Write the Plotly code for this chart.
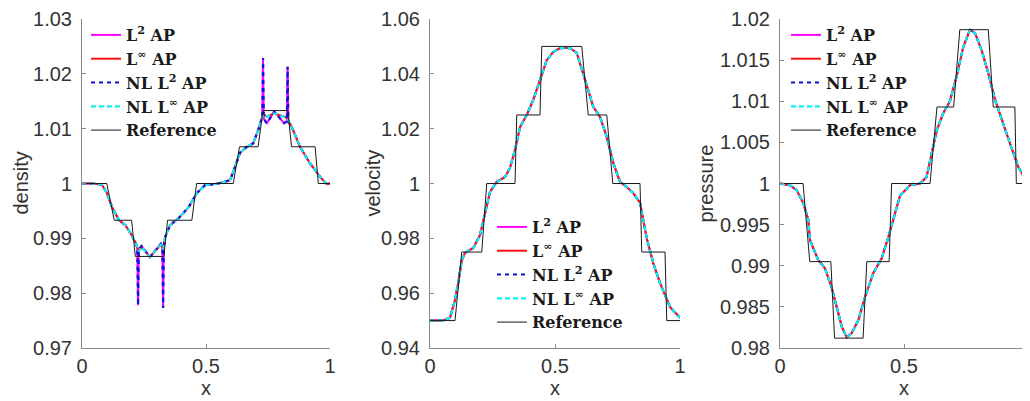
import plotly.graph_objects as go

# ---------------- DATA ----------------
dens_x = [0, 0.04, 0.08, 0.10, 0.121, 0.149, 0.175, 0.20, 0.218, 0.223, 0.226, 0.229,
          0.24, 0.274, 0.318, 0.324, 0.327, 0.330, 0.335, 0.355, 0.39, 0.43, 0.464,
          0.496, 0.55, 0.597, 0.617, 0.637, 0.665, 0.69, 0.71, 0.724, 0.727, 0.730,
          0.733, 0.745, 0.775, 0.815, 0.826, 0.829, 0.832, 0.846, 0.879, 0.919, 0.96,
          0.987, 1.0]
dens_linf = [1.0, 1.0, 0.9998, 0.9983, 0.9957, 0.9933, 0.9924, 0.9906, 0.9890, 0.9882,
             0.9878, 0.9876, 0.9884, 0.9866, 0.9888, 0.9884, 0.9880, 0.9885, 0.9902,
             0.9924, 0.9937, 0.9957, 0.9983, 0.9997, 1.0, 1.0006, 1.0030, 1.0056,
             1.0067, 1.0073, 1.0097, 1.0118, 1.0122, 1.0125, 1.0126, 1.0122, 1.0128,
             1.0122, 1.0120, 1.0118, 1.0115, 1.0103, 1.0067, 1.0037, 1.0012, 0.9999, 1.0]
dens_l2 = [1.0, 1.0, 0.9998, 0.9983, 0.9957, 0.9933, 0.9924, 0.9906, 0.9890, 0.9882,
           0.9778, 0.9880, 0.9886, 0.9866, 0.9890, 0.9884, 0.9773, 0.9885, 0.9902,
           0.9924, 0.9937, 0.9957, 0.9983, 0.9997, 1.0, 1.0006, 1.0030, 1.0056,
           1.0067, 1.0073, 1.0097, 1.0118, 1.0122, 1.0229, 1.0118, 1.0110, 1.0131,
           1.0110, 1.0113, 1.0213, 1.0112, 1.0103, 1.0067, 1.0037, 1.0012, 0.9999, 1.0]
dens_ref_x = [0, 0.10, 0.13, 0.20, 0.215, 0.33, 0.345, 0.443, 0.462, 0.61, 0.635,
              0.71, 0.73, 0.83, 0.845, 0.94, 0.953, 1.0]
dens_ref = [1.0, 1.0, 0.9933, 0.9933, 0.9867, 0.9867, 0.9933, 0.9933, 1.0, 1.0,
            1.0067, 1.0067, 1.0133, 1.0133, 1.0067, 1.0067, 1.0, 1.0]

vel_x = [0, 0.05, 0.08, 0.10, 0.113, 0.127, 0.14, 0.173, 0.20, 0.22, 0.24, 0.267,
         0.30, 0.32, 0.34, 0.36, 0.387, 0.413, 0.44, 0.467, 0.493, 0.52, 0.56, 0.587,
         0.613, 0.633, 0.653, 0.68, 0.707, 0.733, 0.76, 0.787, 0.813, 0.84, 0.867,
         0.893, 0.92, 0.96, 1.0]
vel_num = [0.950, 0.950, 0.951, 0.9575, 0.9637, 0.972, 0.9747, 0.9765, 0.9812, 0.9885,
           0.9969, 1.0006, 1.0024, 1.0057, 1.0122, 1.0206, 1.025, 1.0305, 1.0378,
           1.045, 1.048, 1.0494, 1.0494, 1.0476, 1.040, 1.034, 1.028, 1.0243, 1.017,
           1.0075, 1.0006, 0.9987, 0.9965, 0.993, 0.980, 0.971, 0.9637, 0.955, 0.951]
vel_ref_x = [0, 0.10, 0.127, 0.207, 0.227, 0.34, 0.347, 0.44, 0.447, 0.607, 0.633,
             0.707, 0.731, 0.84, 0.847, 0.94, 0.947, 1.0]
vel_ref = [0.95, 0.95, 0.975, 0.975, 1.0, 1.0, 1.025, 1.025, 1.05, 1.05, 1.025, 1.025,
           1.0, 1.0, 0.975, 0.975, 0.95, 0.95]

pres_x = [0, 0.04, 0.067, 0.094, 0.114, 0.121, 0.154, 0.181, 0.208, 0.228, 0.249,
          0.269, 0.289, 0.316, 0.343, 0.376, 0.41, 0.437, 0.464, 0.484, 0.524, 0.565,
          0.591, 0.612, 0.632, 0.659, 0.685, 0.712, 0.739, 0.766, 0.786, 0.813, 0.84,
          0.867, 0.894, 0.927, 0.961, 0.995, 1.0]
pres_num = [1.0, 0.9998, 0.9992, 0.9976, 0.9956, 0.9931, 0.9907, 0.9897, 0.9874, 0.985,
            0.9826, 0.9813, 0.9818, 0.9834, 0.9862, 0.9891, 0.9909, 0.9935, 0.9964,
            0.9985, 0.9998, 1.0, 1.0008, 1.0037, 1.0065, 1.0086, 1.0100, 1.0130,
            1.0166, 1.0187, 1.0183, 1.0162, 1.0134, 1.0102, 1.0077, 1.0049, 1.0020,
            1.0002, 1.0]
pres_ref_x = [0, 0.093, 0.12, 0.205, 0.22, 0.335, 0.35, 0.44, 0.45, 0.605, 0.633,
              0.70, 0.725, 0.84, 0.86, 0.947, 0.953, 1.0]
pres_ref = [1.0, 1.0, 0.9905, 0.9905, 0.9812, 0.9812, 0.9905, 0.9905, 1.0, 1.0,
            1.0093, 1.0093, 1.0187, 1.0187, 1.0093, 1.0093, 1.0, 1.0]

x_ticks = [0, 0.5, 1]
x_ticktext = ["0", "0.5", "1"]
dens_ticks = [0.97, 0.98, 0.99, 1.0, 1.01, 1.02, 1.03]
dens_ticktext = ["0.97", "0.98", "0.99", "1", "1.01", "1.02", "1.03"]
vel_ticks = [0.94, 0.96, 0.98, 1.0, 1.02, 1.04, 1.06]
vel_ticktext = ["0.94", "0.96", "0.98", "1", "1.02", "1.04", "1.06"]
pres_ticks = [0.98, 0.985, 0.99, 0.995, 1.0, 1.005, 1.01, 1.015, 1.02]
pres_ticktext = ["0.98", "0.985", "0.99", "0.995", "1", "1.005", "1.01", "1.015", "1.02"]

names = ["L<sup>2</sup> AP", "L<sup>∞</sup> AP", "NL L<sup>2</sup> AP",
         "NL L<sup>∞</sup> AP", "Reference"]

# ---------------- STYLE ----------------
styles = [
    dict(color="#ff00ff", width=2, dash="solid"),
    dict(color="#ff1010", width=2, dash="solid"),
    dict(color="#1010e0", width=2.2, dash="4px,4px"),
    dict(color="#10f0f0", width=2.2, dash="5px,3px"),
    dict(color="#1a1a1a", width=1, dash="solid"),
]

# positions below are page pixels (target picture coordinates)
panels = [
    dict(x=dens_x, sols=[dens_l2, dens_linf, dens_l2, dens_linf], rx=dens_ref_x, ry=dens_ref,
         rng=[0.97, 1.03], ticks=dens_ticks, ticktext=dens_ticktext, label="density",
         dom=[82, 330], lab_x=20, leg=(86, 18)),
    dict(x=vel_x, sols=[vel_num] * 4, rx=vel_ref_x, ry=vel_ref,
         rng=[0.94, 1.06], ticks=vel_ticks, ticktext=vel_ticktext, label="velocity",
         dom=[430, 680], lab_x=372, leg=(492, 210)),
    dict(x=pres_x, sols=[pres_num] * 4, rx=pres_ref_x, ry=pres_ref,
         rng=[0.98, 1.02], ticks=pres_ticks, ticktext=pres_ticktext, label="pressure",
         dom=[780, 1028], lab_x=705, leg=(786, 18)),
]

OFF = 8  # default body margin of the page
W, H = 1030 - OFF, 401 - OFF
y_top, y_bot = 19, 348


def px(x):
    return (x - OFF) / W


def py(y):
    return (H - (y - OFF)) / H


fig = go.Figure()
annotations = []
layout = {}
label_font = dict(family="Liberation Sans, Arial", size=20, color="#333333")

for i, p in enumerate(panels):
    k = "" if i == 0 else str(i + 1)
    leg = "legend" + k
    ys = p["sols"] + [p["ry"]]
    xs = [p["x"]] * 4 + [p["rx"]]
    for j in range(5):
        fig.add_trace(go.Scatter(
            x=xs[j], y=ys[j], mode="lines", name=names[j],
            line=styles[j], xaxis="x" + k, yaxis="y" + k, legend=leg,
        ))

    axis_common = dict(
        showline=True, linecolor="#8a8a8a", linewidth=1, mirror=False, automargin=False,
        ticks="inside", ticklen=4, tickcolor="#8a8a8a", showgrid=False, zeroline=False,
        tickfont=dict(family="Liberation Sans, Arial", size=20, color="#333333"),
        ticklabeloverflow="allow",
    )
    layout["xaxis" + k] = dict(
        axis_common, domain=[px(p["dom"][0]), px(p["dom"][1])], range=[0, 1],
        tickvals=x_ticks, ticktext=x_ticktext, anchor="y" + k,
    )
    layout["yaxis" + k] = dict(
        axis_common, domain=[py(y_bot), py(y_top)], range=p["rng"],
        tickvals=p["ticks"], ticktext=p["ticktext"], anchor="x" + k,
        ticklabelstandoff=5,
    )
    layout[leg] = dict(
        x=px(p["leg"][0]), y=py(p["leg"][1]), xanchor="left", yanchor="top",
        bgcolor="rgba(0,0,0,0)", borderwidth=0,
        font=dict(family="DejaVu Serif", size=16, color="#1a1a1a", weight="bold"),
        itemwidth=30, tracegroupgap=0,
    )
    annotations.append(dict(
        x=px(p["lab_x"]), y=py((y_top + y_bot) / 2), xref="paper", yref="paper",
        xanchor="center", yanchor="middle",
        text=p["label"], textangle=-90, showarrow=False, font=label_font,
    ))
    annotations.append(dict(
        x=px((p["dom"][0] + p["dom"][1]) / 2), y=py(388), xref="paper", yref="paper",
        xanchor="center", yanchor="middle",
        text="x", showarrow=False, font=label_font,
    ))

fig.update_layout(
    width=W, height=H,
    margin=dict(l=0, r=0, t=0, b=0, autoexpand=False),
    paper_bgcolor="white", plot_bgcolor="white",
    annotations=annotations,
    **layout,
)

fig.write_html("out.html")
